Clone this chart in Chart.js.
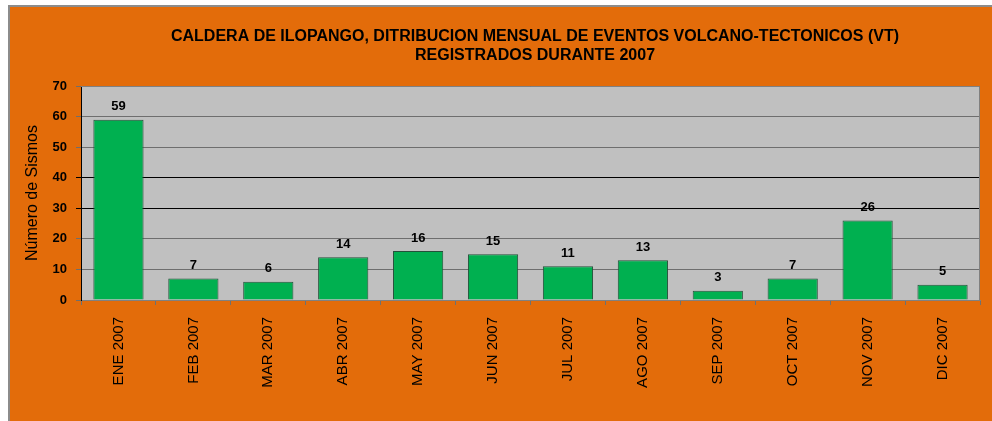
<!DOCTYPE html>
<html>
<head>
<meta charset="utf-8">
<script src="https://cdn.jsdelivr.net/npm/chart.js@4.4.0/dist/chart.umd.min.js"></script>
<style>
  html, body { margin: 0; padding: 0; background: #fff; }
  #wrap { width: 992px; height: 421px; }
</style>
</head>
<body>
<div id="wrap"><canvas id="chart" width="992" height="421"></canvas></div>
<script>
// Monthly VT events, Ilopango 2007
const months = ['ENE 2007', 'FEB 2007', 'MAR 2007', 'ABR 2007', 'MAY 2007', 'JUN 2007',
                'JUL 2007', 'AGO 2007', 'SEP 2007', 'OCT 2007', 'NOV 2007', 'DIC 2007'];
const eventCounts = [59, 7, 6, 14, 16, 15, 11, 13, 3, 7, 26, 5];
const titleLines = ['CALDERA DE ILOPANGO, DITRIBUCION MENSUAL DE EVENTOS VOLCANO-TECTONICOS (VT)',
                    'REGISTRADOS DURANTE 2007'];
const yTitle = 'Número de Sismos';

const FONT = "'Liberation Sans', Arial, sans-serif";

// orange frame + grey plot background
const backgroundPlugin = {
  id: 'frameBg',
  beforeDraw(chart) {
    const ctx = chart.ctx;
    const area = chart.chartArea;
    ctx.save();
    ctx.fillStyle = '#ffffff';
    ctx.fillRect(0, 0, chart.width, chart.height);
    ctx.fillStyle = '#8c8c8c';
    ctx.fillRect(8, 5, chart.width - 8, chart.height - 5);
    ctx.fillStyle = '#e36c0a';
    ctx.fillRect(10, 7, chart.width - 10, chart.height - 7);
    ctx.fillStyle = '#c0c0c0';
    ctx.fillRect(area.left, area.top, area.right - area.left, area.bottom - area.top);
    ctx.restore();
  },
  afterDraw(chart) {
    const ctx = chart.ctx;
    const area = chart.chartArea;
    ctx.save();
    ctx.strokeStyle = '#808080';
    ctx.lineWidth = 1;
    ctx.beginPath();
    ctx.moveTo(area.left, area.top + 0.5);
    ctx.lineTo(area.right - 0.5, area.top + 0.5);
    ctx.lineTo(area.right - 0.5, area.bottom);
    ctx.stroke();

    // title sits a bit right of centre in the original
    ctx.font = 'bold 16px ' + FONT;
    ctx.fillStyle = '#000';
    ctx.textAlign = 'center';
    ctx.textBaseline = 'middle';
    titleLines.forEach((line, i) => ctx.fillText(line, 535, 37 + i * 18.5));
    ctx.restore();
  }
};

// value labels above each bar
const valueLabels = {
  id: 'valueLabels',
  afterDatasetsDraw(chart) {
    const ctx = chart.ctx;
    const meta = chart.getDatasetMeta(0);
    ctx.save();
    ctx.font = 'bold 13px ' + FONT;
    ctx.fillStyle = '#000';
    ctx.textAlign = 'center';
    ctx.textBaseline = 'middle';
    meta.data.forEach((bar, i) => {
      ctx.fillText(eventCounts[i], bar.x, bar.y - 13);
    });
    ctx.restore();
  }
};

new Chart(document.getElementById('chart'), {
  type: 'bar',
  data: {
    labels: months,
    datasets: [{
      data: eventCounts,
      backgroundColor: '#00b050',
      borderColor: '#24503a',
      borderWidth: 1,
      barPercentage: 0.67,
      categoryPercentage: 1.0
    }]
  },
  options: {
    responsive: false,
    animation: false,
    layout: { padding: { left: 10, right: 12, top: 86, bottom: 0 } },
    plugins: {
      legend: { display: false },
      tooltip: { enabled: false },
      title: { display: false }
    },
    scales: {
      x: {
        grid: {
          drawOnChartArea: false,
          color: '#707070',
          tickLength: 5
        },
        border: { color: '#808080', width: 1 },
        ticks: {
          color: '#000',
          font: { family: FONT, size: 15 },
          minRotation: 90,
          maxRotation: 90,
          padding: 12
        },
        afterFit(scale) { scale.height = 121; }
      },
      y: {
        min: 0,
        max: 70,
        ticks: {
          stepSize: 10,
          color: '#000',
          font: { family: FONT, size: 13, weight: 'bold' },
          padding: 9
        },
        grid: {
          color: ctx => (ctx.tick && (ctx.tick.value === 30 || ctx.tick.value === 40)) ? '#000000' : '#6e6e6e',
          tickLength: 5
        },
        border: { color: '#000', width: 1 },
        title: {
          display: true,
          text: yTitle,
          color: '#000',
          font: { family: FONT, size: 16 },
          padding: { top: 13, bottom: 0 }
        },
        afterFit(scale) { scale.width = 71; }
      }
    }
  },
  plugins: [backgroundPlugin, valueLabels]
});
</script>
</body>
</html>
